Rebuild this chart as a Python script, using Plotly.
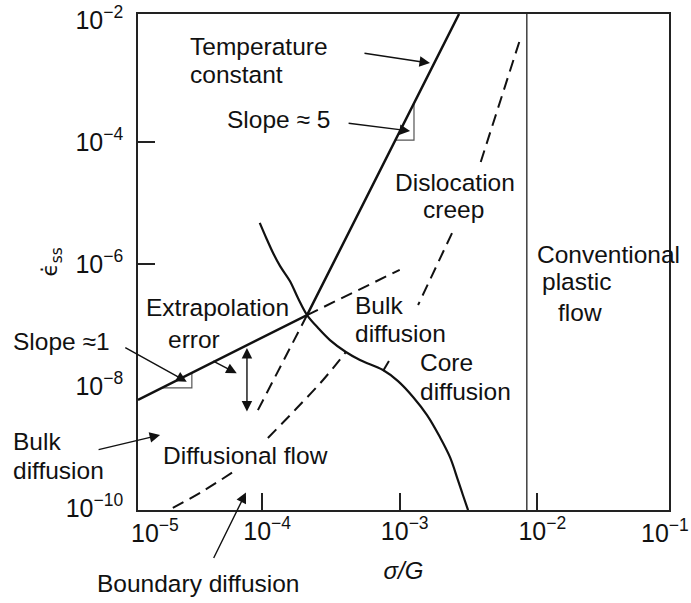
import math
import plotly.graph_objects as go

# ---------------- data: sigma/G versus steady-state strain rate ----------------
# Solid constant-temperature boundary: slope ~1 branch, then slope ~5 branch
main_sg = [1.25e-5, 2.12e-4, 2.70e-3]
main_rate = [5.9e-9, 1.45e-7, 1.25e-2]

# Dashed extrapolations of each branch past the intersection
ext1_sg = [2.12e-4, 1.0e-3]
ext1_rate = [1.45e-7, 8.0e-7]
ext5_sg = [2.12e-4, 8.9e-5]
ext5_rate = [1.45e-7, 3.3e-9]

# Solid curve separating the bulk- and core/boundary-controlled fields
cross_sg = [9.6e-5, 1.07e-4, 1.20e-4, 1.35e-4, 1.59e-4, 1.82e-4, 2.12e-4, 2.55e-4,
            3.11e-4, 4.06e-4, 5.14e-4, 7.56e-4, 9.72e-4, 1.25e-3, 1.58e-3, 1.96e-3,
            2.32e-3, 2.65e-3, 2.88e-3, 3.14e-3]
cross_rate = [4.7e-6, 2.66e-6, 1.51e-6, 9.2e-7, 5.25e-7, 2.76e-7, 1.45e-7, 8.9e-8,
              5.65e-8, 3.6e-8, 2.66e-8, 1.82e-8, 1.2e-8, 6.6e-9, 3.33e-9, 1.45e-9,
              6.8e-10, 2.86e-10, 1.63e-10, 9.2e-11]

# Dashed bulk/core boundary inside dislocation creep (broken under the labels)
core_sg = [7.4e-3, 3.84e-3, None, 2.40e-3, 1.36e-3, None, 8.35e-4, 7.56e-4]
core_rate = [4.35e-3, 4.35e-5, None, 3.2e-6, 2.12e-7, None, 2.56e-8, 1.75e-8]

# Dashed bulk/boundary boundary inside diffusional flow
gb_sg = [2.24e-5, 3.71e-5, 6.14e-5, None, 1.10e-4, 1.76e-4, 2.77e-4, 4.06e-4]
gb_rate = [1.0e-10, 1.89e-10, 3.88e-10, None, 1.4e-9, 4.18e-9, 1.25e-8, 3.6e-8]

# Onset of conventional plastic flow
plastic_sg = [8.4e-3, 8.4e-3]
plastic_rate = [1e-11, 1.0]

# Slope indicator triangles
tri5_sg = [9.3e-4, 1.27e-3, 1.27e-3]
tri5_rate = [1.07e-4, 1.07e-4, 4.3e-4]
tri1_sg = [1.87e-5, 3.08e-5, 3.08e-5]
tri1_rate = [9.27e-9, 9.27e-9, 1.63e-8]

# Axis ticks
x_tickvals = [1e-4, 1e-3, 1e-2]
x_ticktext = ["10<sup>\u22124</sup>", "10<sup>\u22123</sup>", "10<sup>\u22122</sup>"]
x_edge_text = ["10<sup>\u22125</sup>", "10<sup>\u22121</sup>"]
y_tickvals = [1e-2, 1e-4, 1e-6, 1e-8, 1e-10]
y_ticktext = ["10<sup>\u22122</sup>", "10<sup>\u22124</sup>", "10<sup>\u22126</sup>",
              "10<sup>\u22128</sup>", "10<sup>\u221210</sup>"]
y_marks = [1e-4, 1e-6]

# Field labels: text, paper x, paper y, horizontal anchor
region_labels = [
    ("Temperature", 0.094, 0.9345, "left"),
    ("constant", 0.094, 0.878, "left"),
    ("Slope \u2248 5", 0.164, 0.7883, "left"),
    ("Dislocation", 0.597, 0.6603, "center"),
    ("creep", 0.595, 0.6058, "center"),
    ("Conventional", 0.748, 0.5151, "left"),
    ("plastic", 0.757, 0.4607, "left"),
    ("flow", 0.787, 0.3972, "left"),
    ("Extrapolation", 0.012, 0.4073, "left"),
    ("error", 0.053, 0.3438, "left"),
    ("Slope \u22481", -0.239, 0.3407, "left"),
    ("Bulk", -0.239, 0.1371, "left"),
    ("diffusion", -0.239, 0.0796, "left"),
    ("Diffusional flow", 0.044, 0.1089, "left"),
    ("Bulk", 0.405, 0.4133, "left"),
    ("diffusion", 0.405, 0.3554, "left"),
    ("Core", 0.528, 0.2974, "left"),
    ("diffusion", 0.528, 0.2389, "left"),
    ("Boundary diffusion", -0.081, -0.1472, "left"),
]

# Pointer arrows: tip (sigma/G, rate), tail offset in px, double-headed
pointers = [
    (1.66e-3, 1.96e-3, -67, -10, False),
    (1.19e-3, 1.51e-4, -63, -8, False),
    (2.83e-5, 1.17e-8, -63, -35, False),
    (6.53e-5, 1.61e-8, -25, -13, False),
    (7.75e-5, 4.18e-8, 0, 65, True),
    (1.81e-5, 1.57e-9, -63, 15, False),
    (7.62e-5, 1.79e-10, -33, 67, False),
]

FONT = "Liberation Sans, Arial, Helvetica, sans-serif"
INK = "#111111"
TEXT_SIZE = 24.5

fig = go.Figure()


def add_line(x, y, width, dash=None, shape="linear", color=INK):
    fig.add_trace(go.Scatter(
        x=x, y=y, mode="lines",
        line=dict(color=color, width=width, dash=dash, shape=shape),
        hoverinfo="skip", showlegend=False,
    ))


add_line(plastic_sg, plastic_rate, 1.3, color="#222222")
add_line(tri5_sg, tri5_rate, 1.2, color="#555555")
add_line(tri1_sg, tri1_rate, 1.2, color="#555555")
add_line(ext1_sg, ext1_rate, 2.0, dash="12px,7px")
add_line(ext5_sg, ext5_rate, 2.0, dash="12px,7px")
add_line(core_sg, core_rate, 2.0, dash="12px,7px")
add_line(gb_sg, gb_rate, 2.0, dash="12px,7px", shape="spline")
add_line(cross_sg, cross_rate, 2.2, shape="spline")
add_line(main_sg, main_rate, 2.5)

for text, px, py, anchor in region_labels:
    fig.add_annotation(
        text=text, xref="paper", yref="paper", x=px, y=py,
        xanchor=anchor, yanchor="middle", showarrow=False,
        font=dict(family=FONT, size=TEXT_SIZE, color=INK),
    )

for sg, rate, ax, ay, both in pointers:
    fig.add_annotation(
        x=math.log10(sg), y=math.log10(rate), xref="x", yref="y",
        ax=ax, ay=ay, axref="pixel", ayref="pixel", text="",
        showarrow=True, arrowhead=2, arrowsize=1.5, arrowwidth=1.4,
        arrowcolor=INK, arrowside="end+start" if both else "end",
        startarrowhead=2, startarrowsize=1.5, standoff=0, startstandoff=0,
    )

# Decade labels sitting on the left and right edges of the frame
for text, px in zip(x_edge_text, [0.032, 0.9934]):
    fig.add_annotation(
        text=text, xref="paper", yref="paper", x=px, y=-0.006,
        xanchor="center", yanchor="top", showarrow=False,
        font=dict(family=FONT, size=25, color=INK),
    )

axis_common = dict(
    type="log", showgrid=False, zeroline=False, automargin=False,
    showline=True, mirror=True, linecolor="#222222", linewidth=1.6,
    tickfont=dict(family=FONT, size=25, color=INK),
    tickmode="array",
)

fig.update_layout(
    width=691, height=603,
    margin=dict(l=138, r=22, t=14, b=93),
    paper_bgcolor="white", plot_bgcolor="white",
    showlegend=False,
    xaxis=dict(
        axis_common, range=[-4.903, -1.042],
        tickvals=x_tickvals, ticktext=x_ticktext,
        ticks="inside", ticklen=17, tickwidth=1.5, tickcolor="#222222",
        ticklabelshift=5, ticklabelstandoff=-2,
        title=dict(text="<i>\u03c3/G</i>", font=dict(family=FONT, size=24, color=INK),
                   standoff=18),
    ),
    yaxis=dict(
        axis_common, range=[-10.034, -1.903],
        tickvals=y_tickvals, ticktext=y_ticktext, ticks="",
        ticklabelstandoff=8,
        minor=dict(tickmode="array", tickvals=y_marks, ticks="inside", ticklen=17,
                   tickwidth=1.5, tickcolor="#222222", showgrid=False),
        title=dict(text="\u03f5\u0307<sub>ss</sub>", font=dict(family="DejaVu Sans, " + FONT, size=22, color=INK),
                   standoff=2),
    ),
)

fig.write_html("out.html")
